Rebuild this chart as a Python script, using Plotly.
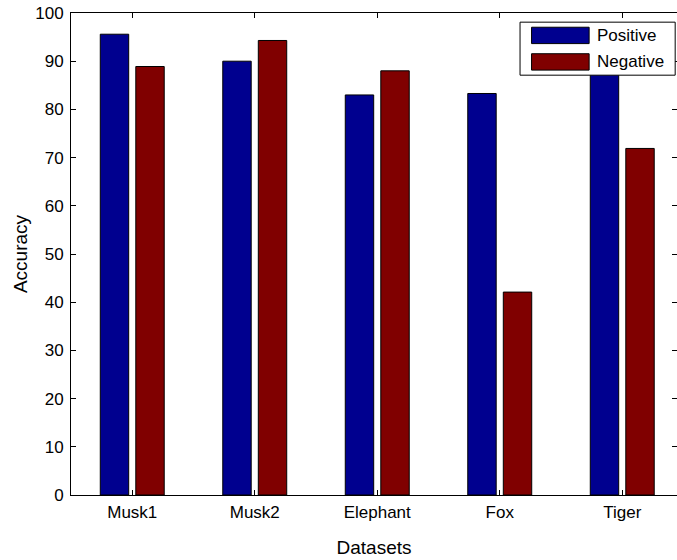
import plotly.graph_objects as go

categories = ["Musk1", "Musk2", "Elephant", "Fox", "Tiger"]
positive = [95.6, 90.0, 83.0, 83.3, 90.0]
negative = [88.9, 94.3, 88.0, 42.1, 71.9]
series_names = ["Positive", "Negative"]
series_colors = ["#00008F", "#800000"]
y_ticks = [0, 10, 20, 30, 40, 50, 60, 70, 80, 90, 100]

FONT = "Liberation Sans, Arial, Helvetica, sans-serif"

fig = go.Figure()
for name, vals, col in zip(series_names, [positive, negative], series_colors):
    fig.add_trace(go.Bar(
        x=categories, y=vals, name=name,
        marker=dict(color=col, line=dict(color="black", width=1)),
        showlegend=False,
    ))

# Manual MATLAB-style legend (wide swatches)
lx0, lx1, ly0, ly1 = 0.741, 0.997, 0.871, 0.981
fig.add_shape(type="rect", xref="paper", yref="paper", x0=lx0, x1=lx1, y0=ly0, y1=ly1,
              line=dict(color="black", width=1), fillcolor="white", layer="above")
row_h = (ly1 - ly0) / 2
for i, (name, col) in enumerate(zip(series_names, series_colors)):
    yc = ly1 - row_h * (i + 0.5)
    fig.add_shape(type="rect", xref="paper", yref="paper",
                  x0=0.760, x1=0.855, y0=yc - 0.017, y1=yc + 0.017,
                  line=dict(color="black", width=1), fillcolor=col, layer="above")
    fig.add_annotation(xref="paper", yref="paper", x=0.864, y=yc, text=name,
                       showarrow=False, xanchor="left", yanchor="middle",
                       font=dict(family=FONT, size=17, color="black"))

fig.update_layout(
    width=677, height=560,
    margin=dict(l=71, r=0, t=13, b=65, autoexpand=False),
    paper_bgcolor="white", plot_bgcolor="white",
    barmode="group", bargap=0.42, bargroupgap=0.2,
    font=dict(family=FONT, size=17, color="black"),
    xaxis=dict(
        range=[-0.5, 4.447], showline=True, linecolor="black", linewidth=1,
        mirror="allticks", ticks="inside", ticklen=5, tickcolor="black",
        showgrid=False, zeroline=False, ticklabelstandoff=2,
        title=dict(text="Datasets", font=dict(size=19), standoff=19),
        tickfont=dict(size=17),
    ),
    yaxis=dict(
        range=[0, 100], tickvals=y_ticks, showline=True, linecolor="black", linewidth=1,
        mirror="allticks", ticks="inside", ticklen=5, tickcolor="black",
        showgrid=False, zeroline=False, ticklabeloverflow="allow", ticklabelstandoff=3,
        title=dict(text="Accuracy", font=dict(size=19), standoff=2),
        tickfont=dict(size=17),
    ),
)

fig.write_html("out.html", config={"displayModeBar": False},
               post_script="document.body.style.margin='0';")
